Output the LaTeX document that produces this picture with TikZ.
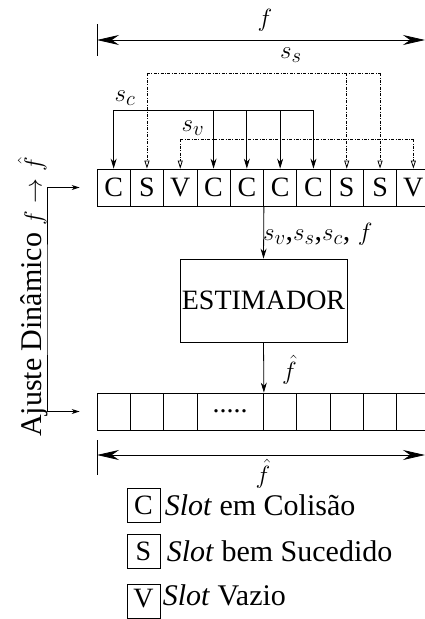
\documentclass[tikz,border=0pt]{standalone}
\usepackage{amsmath,amssymb}
\usepackage{fontspec}
\setmainfont{Liberation Serif}
\usetikzlibrary{arrows.meta,positioning}

\begin{document}
\begin{tikzpicture}[x=1pt,y=-1pt,line width=0.8pt,
  slot/.style={draw,minimum width=33.3pt,minimum height=37pt,inner sep=0pt,font=\fontsize{28}{32}\selectfont},
  legbox/.style={draw,minimum width=33pt,minimum height=34pt,inner sep=0pt,font=\fontsize{28}{32}\selectfont},
  lbl/.style={inner sep=1pt,font=\fontsize{30}{34}\selectfont},
  txt/.style={inner sep=0pt,font=\fontsize{30}{34}\selectfont},
  hit/.style={-{Stealth[length=10pt,width=6pt]}},
  hitdd/.style={-{Triangle[open,length=8pt,width=5pt]},dash pattern=on 3pt off 1.5pt on 0.8pt off 1.5pt},
  dd/.style={dash pattern=on 3pt off 1.5pt on 0.8pt off 1.5pt},
  dim/.style={{Stealth[length=22pt,width=10pt]}-{Stealth[length=22pt,width=10pt]}}]
\path[use as bounding box,clip] (0,0) rectangle (425,619);

% quadro atual
\foreach \l [count=\i] in {C,S,V,C,C,C,C,S,S,V}
  \node[slot] (c\i) at ({97+33.3*(\i-0.5)},187.5) {\l};

% proximo quadro
\foreach \i/\x in {1/113.65,2/146.95,3/180.25,5/280.15,6/313.45,7/346.75,8/380.05,9/413.35}
  \node[slot] (d\i) at (\x,411.5) {};
\node[slot,minimum width=66.6pt] (d4) at (230.2,411.5) {.....};

\node[slot,minimum width=167pt,minimum height=83pt,font=\fontsize{28}{32}\selectfont] (est) at (263.5,300.5) {ESTIMADOR};

% barramentos
\coordinate (bc) at (0,110);
\coordinate (bs) at (0,73);
\coordinate (bv) at (0,139);
\node[lbl] (lsc) at (125,98) {$s_c$};
\node[lbl] (lss) at (291,55) {$s_s$};
\node[lbl] (lsv) at (193,128) {$s_v$};

\draw[dd] (c2.north |- bs) -- (c9.north |- bs);
\foreach \k in {2,8,9}
  \draw[hitdd] (c\k.north |- bs) -- (c\k.north);
\draw (c1.north |- bc) -- (c7.north |- bc);
\foreach \k in {1,4,5,6,7}
  \draw[hit] (c\k.north |- bc) -- (c\k.north);
\draw[dd] (c3.north |- bv) -- (c10.north |- bv);
\foreach \k in {3,10}
  \draw[hitdd] (c\k.north |- bv) -- (c\k.north);

% estimador
\path[hit]
  (c5.south east) edge node[lbl,anchor=west,xshift=-2pt,yshift=-2pt] (lin) {$s_v$,$s_s$,$s_c$, $f$} (est.north)
  (est.south) edge node[lbl,anchor=west,xshift=17pt,yshift=-2pt] (lout) {$\hat{f}$} (d4.north east);

% dimensoes
\coordinate (fL) at (97,40);
\coordinate (fR) at (425,40);
\draw[dim] (fL) -- (fR);
\node[lbl] (lf) at (265,20) {$f$};
\draw ([yshift=16pt]fL) -- ([yshift=-16pt]fL);
\coordinate (gL) at (97,455);
\coordinate (gR) at (425,455);
\draw[dim] (gL) -- (gR);
\node[lbl] (lg) at (263,474) {$\hat{f}$};
\draw ([yshift=15pt]gL) -- ([yshift=-20pt]gL);

% ajuste
\coordinate (fb) at (47,300);
\draw[{Stealth[length=8pt,width=5pt]}-{Stealth[length=8pt,width=5pt]},shorten <=17pt,shorten >=17pt]
  (c1.west) -| (fb) |- (d1.west);
\node[txt,rotate=90] (aj) at (33,297) {Ajuste Dinâmico $f\rightarrow\hat{f}$};

% legenda
\node[legbox] (legC) at (143.5,505) {C};
\node[legbox] (legS) at (143.5,551.5) {S};
\node[legbox] (legV) at (143.5,601.5) {\raisebox{6pt}{V}};
\node[txt,right=4pt of legC] (tC) {\textit{Slot} em Colisão};
\node[txt,right=6pt of legS] (tS) {\textit{Slot} bem Sucedido};
\node[txt,right=2pt of legV,yshift=6pt] (tV) {\textit{Slot} Vazio};

\end{tikzpicture}
\end{document}
